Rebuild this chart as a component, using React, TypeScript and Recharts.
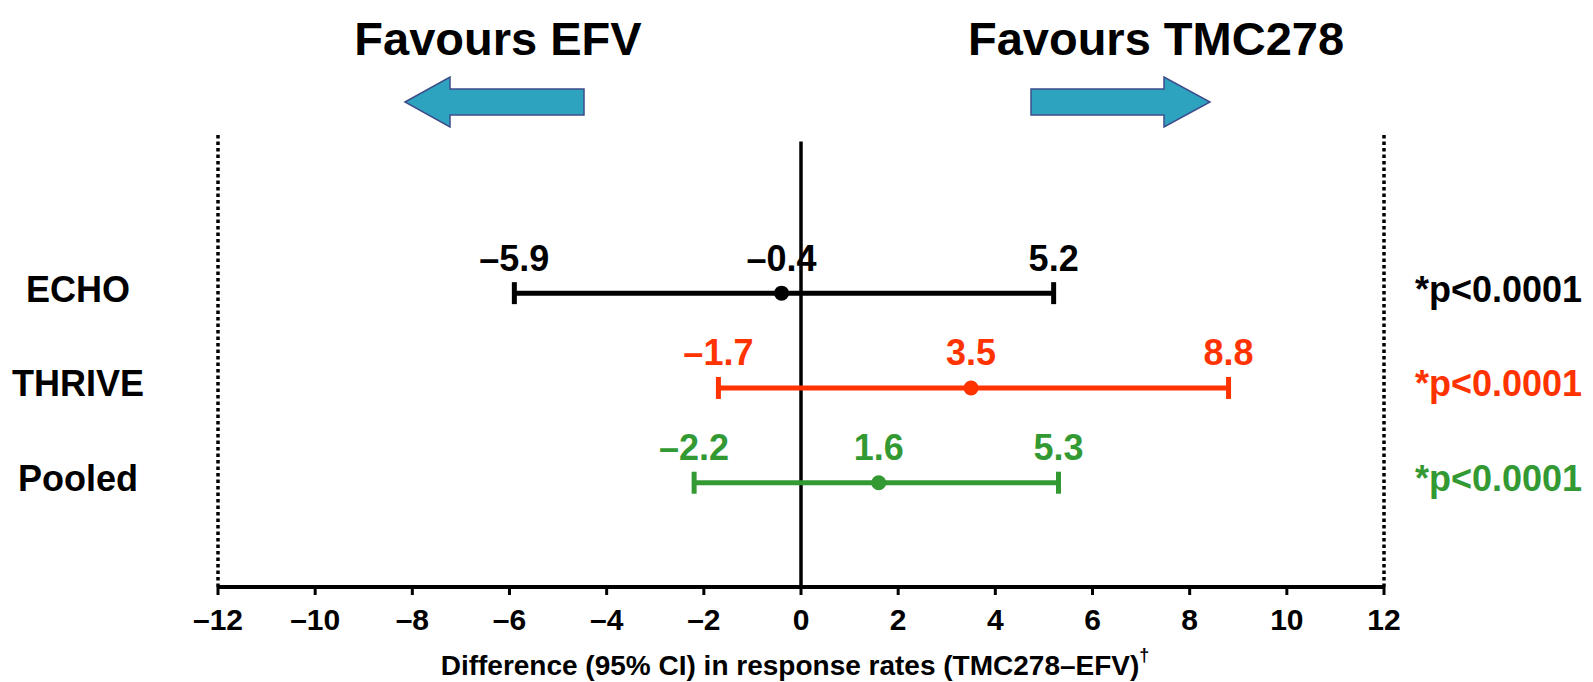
import {
  ErrorBar,
  Label,
  ReferenceLine,
  Scatter,
  ScatterChart,
  XAxis,
  YAxis,
} from "recharts";

const studies = ["ECHO", "THRIVE", "Pooled"];
const estimates = [-0.4, 3.5, 1.6];
const lowerCI = [-5.9, -1.7, -2.2];
const upperCI = [5.2, 8.8, 5.3];
const pValues = ["*p<0.0001", "*p<0.0001", "*p<0.0001"];
const xTicks = [-12, -10, -8, -6, -4, -2, 0, 2, 4, 6, 8, 10, 12];
const rowTicks = [1, 2, 3];

const colors = ["#000000", "#ff3300", "#339933"];
const font = "'Liberation Sans', Arial, sans-serif";
const yDomain: [number, number] = [-0.1, 4.7];

// row 3 = ECHO at the top, row 1 = Pooled at the bottom
const rowOf = (i: number) => studies.length - i;

const fmt = (v: number, digits = 1) =>
  v < 0 ? "\u2013" + Math.abs(v).toFixed(digits) : v.toFixed(digits);

const studyRows = studies.map((name, i) => ({
  name,
  x: estimates[i],
  y: rowOf(i),
  err: [estimates[i] - lowerCI[i], upperCI[i] - estimates[i]],
}));

const valueLabels = studies.map((name, i) =>
  [lowerCI[i], estimates[i], upperCI[i]].map((v) => ({ name, x: v, y: rowOf(i), text: fmt(v) }))
);

function XTick({ x, y, payload }: any) {
  const v = Number(payload.value);
  return (
    <text x={x} y={y} dy={22} textAnchor="middle" dominantBaseline="central" fontFamily={font} fontWeight="bold" fontSize={30} fill="#000">
      {v < 0 ? "\u2013" + Math.abs(v) : String(v)}
    </text>
  );
}

function StudyTick({ x, y, payload }: any) {
  const i = studies.length - Number(payload.value);
  return (
    <text x={x} y={y} dy={-4} textAnchor="middle" dominantBaseline="central" fontFamily={font} fontWeight="bold" fontSize={36} fill="#000">
      {studies[i]}
    </text>
  );
}

function PTick({ x, y, payload }: any) {
  const i = studies.length - Number(payload.value);
  return (
    <text x={x} y={y} dy={-4} textAnchor="start" dominantBaseline="central" fontFamily={font} fontWeight="bold" fontSize={36} fill={colors[i]}>
      {pValues[i]}
    </text>
  );
}

function AxisTitle({ viewBox }: any) {
  const cx = viewBox.x + viewBox.width / 2 - 6;
  return (
    <text x={cx} y={viewBox.y + 78} textAnchor="middle" dominantBaseline="central" fontFamily={font} fontWeight="bold" fontSize={28} fill="#000">
      Difference (95% CI) in response rates (TMC278{"\u2013"}EFV)
      <tspan fontSize={18} dy={-10}>{"\u2020"}</tspan>
    </text>
  );
}

export default function App() {
  return (
    <div style={{ position: "absolute", left: 0, top: 0, width: 1593, height: 682, background: "#fff" }}>
      <ScatterChart width={1593} height={682} margin={{ top: 132, right: 0, bottom: 0, left: 0 }}>
        <XAxis
          type="number"
          dataKey="x"
          domain={[-12, 12]}
          ticks={xTicks}
          interval={0}
          height={95}
          axisLine={{ stroke: "#000", strokeWidth: 4 }}
          tickLine={{ stroke: "#000", strokeWidth: 3 }}
          tickSize={8}
          tickMargin={2}
          tick={<XTick />}
        >
          <Label content={<AxisTitle />} />
        </XAxis>
        <YAxis
          yAxisId="rows"
          type="number"
          dataKey="y"
          domain={yDomain}
          ticks={rowTicks}
          width={218}
          axisLine={false}
          tickLine={false}
          tickSize={0}
          tickMargin={140}
          tick={<StudyTick />}
        />
        <YAxis
          yAxisId="p"
          orientation="right"
          type="number"
          domain={yDomain}
          ticks={rowTicks}
          allowDataOverflow
          width={209}
          axisLine={false}
          tickLine={false}
          tickSize={0}
          tickMargin={31}
          tick={<PTick />}
        />
        <ReferenceLine yAxisId="rows" x={-12} stroke="#000" strokeWidth={3.5} strokeDasharray="3.5 3" />
        <ReferenceLine yAxisId="rows" x={12} stroke="#000" strokeWidth={3.5} strokeDasharray="3.5 3" />
        <ReferenceLine
          yAxisId="rows"
          segment={[{ x: 0, y: 4.6 }, { x: 0, y: yDomain[0] }]}
          stroke="#000"
          strokeWidth={3.5}
        />
        {studyRows.map((row, i) => (
          <Scatter
            key={row.name}
            yAxisId="rows"
            data={[row]}
            isAnimationActive={false}
            shape={(p: any) => <circle cx={p.cx} cy={p.cy} r={7.5} fill={colors[i]} />}
          >
            <ErrorBar dataKey="err" direction="x" width={11} stroke={colors[i]} strokeWidth={5} isAnimationActive={false} />
          </Scatter>
        ))}
        {valueLabels.map((pts, i) => (
          <Scatter
            key={"lbl-" + studies[i]}
            yAxisId="rows"
            data={pts}
            isAnimationActive={false}
            shape={(p: any) => (
              <text x={p.cx} y={p.cy - 35} textAnchor="middle" dominantBaseline="central" fontFamily={font} fontWeight="bold" fontSize={36} fill={colors[i]}>
                {p.payload.text}
              </text>
            )}
          />
        ))}
      </ScatterChart>
      <svg width={1593} height={140} style={{ position: "absolute", left: 0, top: 0, pointerEvents: "none" }}>
        <text x={498} y={55} textAnchor="middle" fontFamily={font} fontWeight="bold" fontSize={47} fill="#000">
          Favours EFV
        </text>
        <text x={1156} y={55} textAnchor="middle" fontFamily={font} fontWeight="bold" fontSize={47} fill="#000">
          Favours TMC278
        </text>
        <polygon
          points="405,102 450,77 450,89 584,89 584,115 450,115 450,127"
          fill="#2ea3c0"
          stroke="#3d4d8a"
          strokeWidth={1.5}
        />
        <polygon
          points="1031,89 1164,89 1164,77 1210,102 1164,127 1164,115 1031,115"
          fill="#2ea3c0"
          stroke="#3d4d8a"
          strokeWidth={1.5}
        />
      </svg>
    </div>
  );
}
